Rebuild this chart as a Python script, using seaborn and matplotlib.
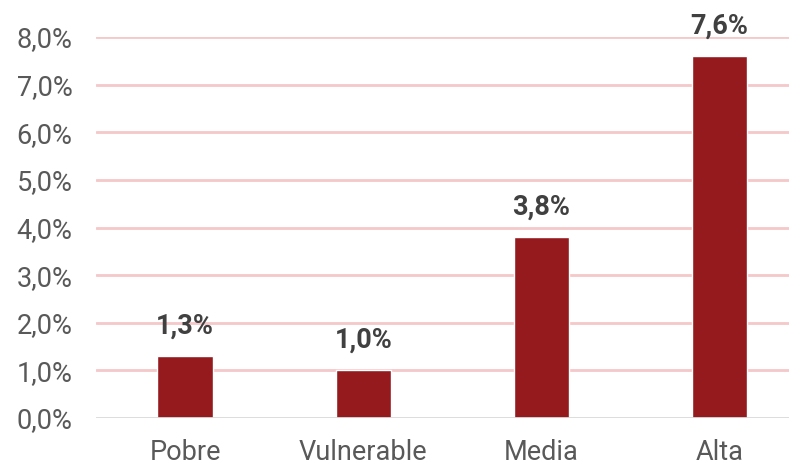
import seaborn as sns
import numpy as np
import matplotlib.pyplot as plt
import pandas as pd

categories = ['Pobre', 'Vulnerable', 'Media', 'Alta']
values = [1.3, 1.0, 3.8, 7.6]
yticks = [0, 1, 2, 3, 4, 5, 6, 7, 8]

sns.set_style('white')
plt.rcParams['font.family'] = ['Roboto', 'DejaVu Sans']

df = pd.DataFrame({'grupo': categories, 'valor': values})

fig = plt.figure(figsize=(7.89, 4.68), dpi=100)
ax = fig.add_axes([96 / 789, 50 / 468, 1 - 96 / 789, 381 / 468])

# gridlines first so bars sit on top
for t in yticks[1:]:
    ax.axhline(t, color='#f5c8ca', lw=2, zorder=0)
ax.axhline(0, color='#d9d9d9', lw=2, zorder=3)

sns.barplot(data=df, x='grupo', y='valor', color='#941a1d', width=0.31,
            saturation=1, ax=ax, zorder=2)

for i, v in enumerate(values):
    ax.annotate(f'{v:.1f}%'.replace('.', ','), (i, v), xytext=(0, 12),
                textcoords='offset points', ha='center', va='bottom',
                fontsize=19.5, fontweight='bold', color='#404040')

ax.set_xlim(-0.5, 3.39)
ax.set_ylim(0, 8)
ax.set_yticks(yticks)
ax.set_yticklabels([f'{t},0%' for t in yticks])
ax.tick_params(axis='y', labelsize=19.5, labelcolor='#595959', length=0, pad=17)
ax.tick_params(axis='x', labelsize=19.5, labelcolor='#595959', length=0, pad=15)
ax.set_xlabel('')
ax.set_ylabel('')
for s in ax.spines.values():
    s.set_visible(False)

fig.savefig('out.png', dpi=100)
